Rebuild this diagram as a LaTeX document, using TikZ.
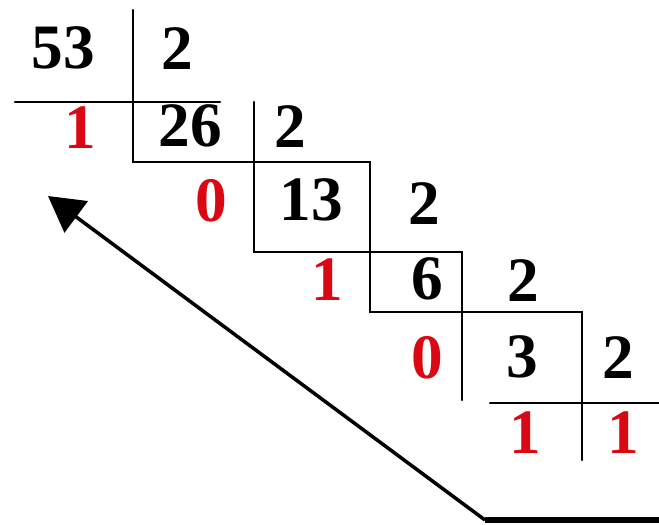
\documentclass[tikz,border=0pt]{standalone}
\usepackage{fontspec}
\setmainfont{Liberation Serif}
\usepackage{tikz}
\usetikzlibrary{calc, arrows.meta}
\usepackage{tkz-euclide}
\definecolor{remred}{RGB}{218,8,18}

\begin{document}
\begin{tikzpicture}[num/.style={inner sep=0pt, font=\fontsize{18}{18}\selectfont\bfseries},
                    rem/.style={num, text=remred}]
                \useasboundingbox (0,0) rectangle (6.59,5.24);
                \tkzDefPoints{1.33/5.14/A, 1.33/3.62/B, 3.70/3.62/C, 3.70/2.12/D, 5.82/2.12/E, 5.82/0.64/F}
                \tkzDefPoints{2.54/4.22/G, 2.54/2.72/H, 4.62/2.72/I, 4.62/1.24/J}
                \tkzDefPoints{0.15/4.22/K, 2.20/4.22/L, 4.90/1.21/M, 6.59/1.21/N}
                \tkzDefPoints{6.59/0.04/P, 4.85/0.04/Q, 0.48/3.28/T}
                \tkzDrawPolySeg[black, line width=0.6pt](A,B,C,D,E,F)
                \tkzDrawPolySeg[black, line width=0.6pt](G,H,I,J)
                \tkzDrawSegments[black, line width=0.6pt](K,L M,N)
                \draw[line width=1.8pt] (P) -- (Q);
                \draw[line width=1pt, -{Triangle[length=10pt, width=11pt]}] (Q) -- (T);
                \node[num] (n53) at (0.63,4.765) {53};
                \node[num] (d1) at (1.77,4.755) {2};
                \node[rem] (r1) at (0.80,3.96) {1};
                \node[num] (n26) at (1.90,3.98) {26};
                \node[num] (d2) at (2.90,3.975) {2};
                \node[rem] (r2) at (2.11,3.23) {0};
                \node[num] (n13) at (3.11,3.24) {13};
                \node[num] (d3) at (4.24,3.20) {2};
                \node[rem] (r3) at (3.27,2.44) {1};
                \node[num] (n6) at (4.27,2.45) {6};
                \node[num] (d4) at (5.23,2.43) {2};
                \node[rem] (r4) at (4.27,1.665) {0};
                \node[num] (n3) at (5.22,1.67) {3};
                \node[num] (d5) at (6.18,1.66) {2};
                \node[rem] (r5) at (5.25,0.91) {1};
                \node[rem] (n1) at (6.23,0.91) {1};
            \end{tikzpicture}
\end{document}
